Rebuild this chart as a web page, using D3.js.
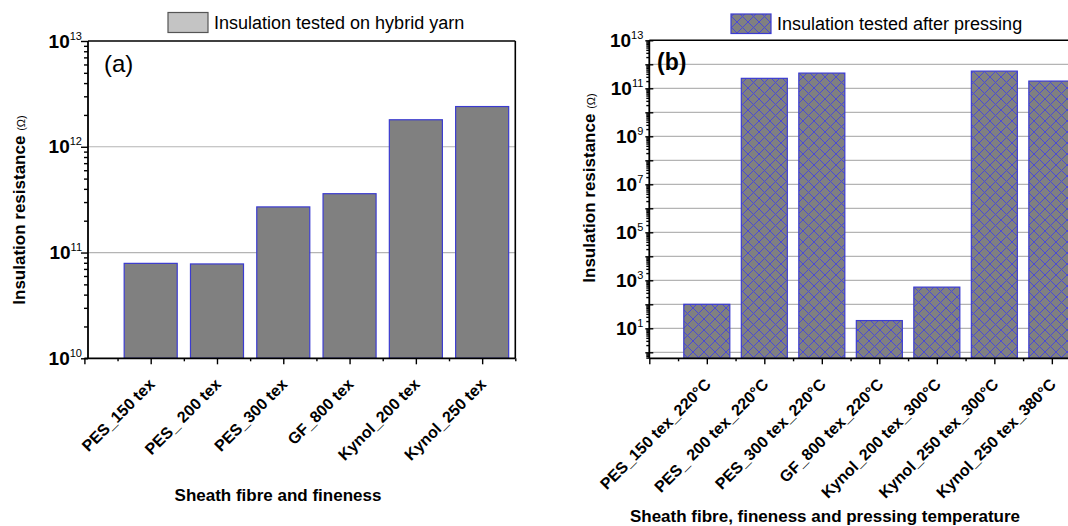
<!DOCTYPE html>
<html><head><meta charset="utf-8">
<script src="https://cdn.jsdelivr.net/npm/d3@7/dist/d3.min.js"></script>
<style>
html,body{margin:0;padding:0;background:#fff;}
text{font-family:Arial,"Liberation Sans",sans-serif;}
</style></head>
<body>
<svg id="chart" width="1068" height="526"></svg>
<script>
// ---------- data ----------
const categoriesA = ["PES_150 tex","PES_ 200 tex","PES_300 tex","GF_800 tex","Kynol_200 tex","Kynol_250 tex"];
const valuesA = [7.9e10, 7.8e10, 2.7e11, 3.6e11, 1.8e12, 2.4e12];
const tickExpA = [10, 11, 12, 13];
const gridExpA = [11, 12];

const categoriesB = ["PES_150 tex_220°C","PES_ 200 tex_220°C","PES_300 tex_220°C","GF_800 tex_220°C","Kynol_200 tex_300°C","Kynol_250 tex_300°C","Kynol_250 tex_380°C"];
const valuesB = [100, 2.6e11, 4.3e11, 21, 520, 5.2e11, 2.0e11];
const tickExpB = [1, 3, 5, 7, 9, 11, 13];
const gridExpB = [0,1,2,3,4,5,6,7,8,9,10,11,12];

const legendA = "Insulation tested on hybrid yarn";
const legendB = "Insulation tested after pressing";
const xTitleA = "Sheath fibre and fineness";
const xTitleB = "Sheath fibre, fineness and pressing temperature";
const yTitle = "Insulation resistance ";
const yUnit = "(Ω)";

// ---------- setup ----------
const svg = d3.select("#chart");
const defs = svg.append("defs");
const pat = defs.append("pattern").attr("id","hatch").attr("patternUnits","userSpaceOnUse")
  .attr("width",11).attr("height",11);
pat.append("rect").attr("width",11).attr("height",11).attr("fill","#808080");
pat.append("path").attr("d","M0,0L11,11M11,0L0,11M-1,10L1,12M10,-1L12,1")
  .attr("stroke","#4a4ad6").attr("stroke-width",1).attr("fill","none");

const barStroke = "#3b3bd0";
const gridColor = "#b4b4b4";

function drawPanel(o){
  const g = svg.append("g");
  const x = d3.scaleLinear().domain(o.xDomain).range(o.xRange);
  const y = d3.scaleLog().domain(o.yDomain).range([o.bottom, o.top]);
  const left = o.yAxisX, right = o.xRange[1];
  // grid
  g.selectAll(".grid").data(o.gridExp).join("line")
    .attr("x1", left).attr("x2", right)
    .attr("y1", d=>y(Math.pow(10,d))).attr("y2", d=>y(Math.pow(10,d)))
    .attr("stroke", gridColor).attr("stroke-width",1.2);
  // bars
  const bw = (x(1)-x(0))*0.8;
  g.selectAll(".bar").data(o.values).join("rect")
    .attr("x",(d,i)=>x(i+1)-bw/2).attr("width",bw)
    .attr("y",d=>y(d)).attr("height",d=>o.bottom-y(d))
    .attr("fill",o.fill).attr("stroke",barStroke).attr("stroke-width",1.2);
  // frame
  g.append("line").attr("x1",left).attr("x2",right).attr("y1",o.top).attr("y2",o.top)
    .attr("stroke","#000").attr("stroke-width",1.6);
  g.append("line").attr("x1",right).attr("x2",right).attr("y1",o.top).attr("y2",o.bottom)
    .attr("stroke","#000").attr("stroke-width",1.6);
  // y axis
  const minor = [];
  const e0 = Math.floor(Math.log10(o.yDomain[0])), e1 = Math.ceil(Math.log10(o.yDomain[1]));
  for(let e=e0;e<e1;e++){ for(let m=2;m<=9;m++){ const v=m*Math.pow(10,e); if(v>=o.yDomain[0]&&v<=o.yDomain[1]) minor.push(v);} }
  const yax = g.append("g").attr("transform",`translate(${left},0)`);
  yax.call(d3.axisLeft(y).tickValues(minor).tickSize(o.minorY).tickFormat(""));
  yax.call(g2=>g2.select(".domain").remove());
  const yMaj = g.append("g").attr("transform",`translate(${left},0)`);
  const majVals = [];
  for(let e=Math.ceil(Math.log10(o.yDomain[0]));e<=e1;e++) majVals.push(Math.pow(10,e));
  yMaj.call(d3.axisLeft(y).tickValues(majVals).tickSizeInner(o.majorY).tickSizeOuter(0).tickFormat(""));
  if(o.crossMajor){ yMaj.selectAll(".tick line").attr("x1",4); }
  g.selectAll("line, path").filter(function(){return this.closest(".tick")||this.classList.contains("domain");})
    .attr("stroke","#000").attr("stroke-width",1.4);
  yMaj.select(".domain").attr("stroke-width",1.8).attr("d",`M0,${o.bottom}V${o.top}`);
  // y labels
  const lab = g.selectAll(".ylab").data(o.tickExp).join("text")
    .attr("x", left-6).attr("y", d=>y(Math.pow(10,d))+6.6)
    .attr("text-anchor","end").attr("font-size",19).attr("font-weight","bold");
  lab.append("tspan").text("10");
  lab.append("tspan").text(d=>d).attr("font-size",11).attr("font-weight","normal").attr("dy",-8);
  // x axis
  const xmin = [], xmaj = [];
  for(let k=0;k<=o.values.length;k++){ xmaj.push(k); xmin.push(k+0.5); }
  const xax = g.append("g").attr("transform",`translate(0,${o.bottom})`);
  xax.call(d3.axisBottom(x).tickValues(xmin).tickSizeInner(3).tickSizeOuter(0).tickFormat(""));
  xax.select(".domain").remove();
  const xax2 = g.append("g").attr("transform",`translate(0,${o.bottom})`);
  xax2.call(d3.axisBottom(x).tickValues(xmaj).tickSizeInner(6).tickSizeOuter(0).tickFormat(""));
  xax.selectAll("line").attr("stroke","#000").attr("stroke-width",1.4);
  xax2.selectAll("line").attr("stroke","#000").attr("stroke-width",1.4);
  xax2.select(".domain").attr("stroke","#000").attr("stroke-width",1.8)
    .attr("d",`M${o.xRange[0]},0H${right}`);
  // x labels
  g.selectAll(".xlab").data(o.categories).join("text")
    .attr("transform",(d,i)=>`translate(${x(i+1)+5},${o.bottom+27}) rotate(-45)`)
    .attr("text-anchor","end").attr("font-size",16).attr("font-weight","bold").text(d=>d);
  // titles
  g.append("text").attr("x",o.xTitlePos[0]).attr("y",o.xTitlePos[1]).attr("text-anchor","middle")
    .attr("font-size",17).attr("font-weight","bold").text(o.xTitle);
  const yt = g.append("text").attr("transform",`translate(${o.yTitlePos[0]},${o.yTitlePos[1]}) rotate(-90)`)
    .attr("text-anchor","middle");
  yt.append("tspan").attr("font-size",17).attr("font-weight","bold").text(yTitle);
  yt.append("tspan").attr("font-size",11).text(yUnit);
  // panel label
  g.append("text").attr("x",o.panelPos[0]).attr("y",o.panelPos[1]).attr("font-size",o.panelSize)
    .attr("font-weight",o.panelWeight).text(o.panel);
  // legend
  g.append("rect").attr("x",o.legBox[0]).attr("y",o.legBox[1]).attr("width",o.legBox[2]).attr("height",o.legBox[3])
    .attr("fill",o.legFill).attr("stroke",o.legStroke).attr("stroke-width",1.2);
  g.append("text").attr("x",o.legBox[0]+o.legBox[2]+6).attr("y",o.legBox[1]+o.legBox[3]-4)
    .attr("font-size",18).text(o.legend);
}

drawPanel({
  categories: categoriesA, values: valuesA, tickExp: tickExpA, gridExp: gridExpA,
  xDomain:[0,6.5], xRange:[84.4,515.3], yDomain:[1e10,1e13], top:41, bottom:358.3, yAxisX:88,
  fill:"#808080", minorY:4, majorY:7, crossMajor:false,
  xTitle: xTitleA, xTitlePos:[278,501], yTitlePos:[25,210],
  panel:"(a)", panelPos:[104,72], panelSize:24, panelWeight:"normal",
  legBox:[168,12.5,40,20], legFill:"#c4c4c4", legStroke:"#555", legend: legendA
});
drawPanel({
  categories: categoriesB, values: valuesB, tickExp: tickExpB, gridExp: gridExpB,
  xDomain:[0,7.5], xRange:[649.3,1080.6], yDomain:[Math.pow(10,-0.25),1e13], top:40.3, bottom:358.3, yAxisX:649.3,
  fill:"url(#hatch)", minorY:3, majorY:4, crossMajor:true,
  xTitle: xTitleB, xTitlePos:[825,522], yTitlePos:[595,188],
  panel:"(b)", panelPos:[657,70], panelSize:23, panelWeight:"bold",
  legBox:[731,14,40,19.5], legFill:"url(#hatch)", legStroke:"#3b3bd0", legend: legendB
});
</script>
</body></html>
